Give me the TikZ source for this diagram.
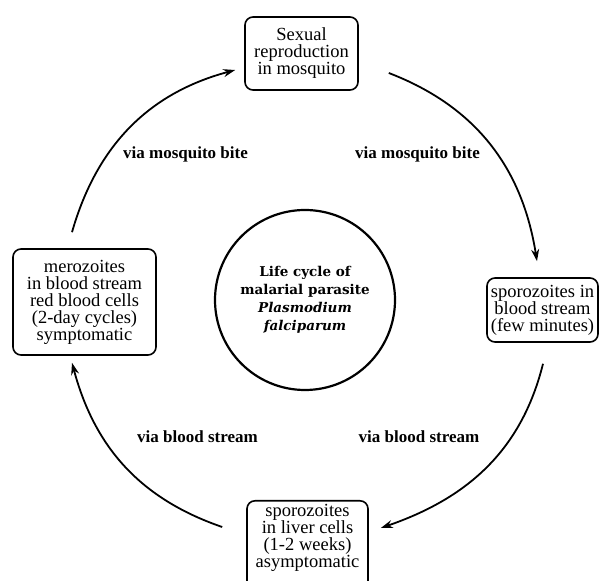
\documentclass[tikz,border=0pt]{standalone}
\usepackage{fontspec}
\setmainfont{Liberation Serif}
\newfontfamily\centrefont{DejaVu Serif}
\usetikzlibrary{arrows.meta, calc}

\tikzset{
  stagebox/.style={draw, line width=1.6pt, rounded corners=8pt, align=center, inner sep=3pt,
    font=\fontsize{18.5}{17}\selectfont},
  cyclearrow/.style={line width=1.8pt, -{Stealth[length=12pt,width=8pt]}},
  vialabel/.style={font=\fontsize{17}{20}\selectfont\bfseries},
}

\begin{document}
\begin{tikzpicture}[x=1pt, y=1pt]
  \useasboundingbox (0,0) rectangle (600,581);
  % centre of the cycle
  \node[draw, circle, line width=2.2pt, minimum size=180pt, align=center, inner sep=0pt,
    font=\centrefont\bfseries\fontsize{13.5}{18}\selectfont] (cycle) at (305,281)
    {Life cycle of\\malarial parasite\\\textit{Plasmodium}\\\textit{falciparum}};
  % stages
  \node[stagebox, minimum width=113pt, minimum height=73pt] (sexual) at (301.5,527.5)
    {Sexual\\reproduction\\in mosquito};
  \node[stagebox, minimum width=111pt, minimum height=64pt] (sporoblood) at (542.5,271)
    {sporozoites in\\blood stream\\(few minutes)};
  \node[stagebox, minimum width=121pt, anchor=north, inner ysep=3.5pt, text depth=30pt] (sporoliver) at (307.5,81)
    {sporozoites\\in liver cells\\(1-2 weeks)\\asymptomatic};
  \node[stagebox, minimum width=143pt, minimum height=106pt] (merozoite) at (84.5,279)
    {merozoites\\in blood stream\\red blood cells\\(2-day cycles)\\symptomatic};
  % transmission routes
  \node[vialabel] (bitel) at (185.5,427) {via mosquito bite};
  \node[vialabel] (biter) at (417.5,427) {via mosquito bite};
  \node[vialabel] (bloodl) at (197.5,144) {via blood stream};
  \node[vialabel] (bloodr) at (419,144) {via blood stream};
  % arcs of the cycle
  \draw[cyclearrow] ($(merozoite.north)+(-12.5,16)$) to[out=74, in=195] ($(sexual.west)+(-9,-16.5)$);
  \draw[cyclearrow] ($(sexual.east)+(30,-19.5)$) to[out=-21, in=99] ($(sporoblood.north)+(-5.5,16)$);
  \draw[cyclearrow] ($(sporoblood.south)+(0.5,-21)$) to[out=-104, in=19] ($(sporoliver.north east)+(12,-28)$);
  \draw[cyclearrow] ($(sporoliver.north west)+(-24,-27)$) to[out=161, in=285] ($(merozoite.south)+(-12.5,-7)$);
\end{tikzpicture}
\end{document}
